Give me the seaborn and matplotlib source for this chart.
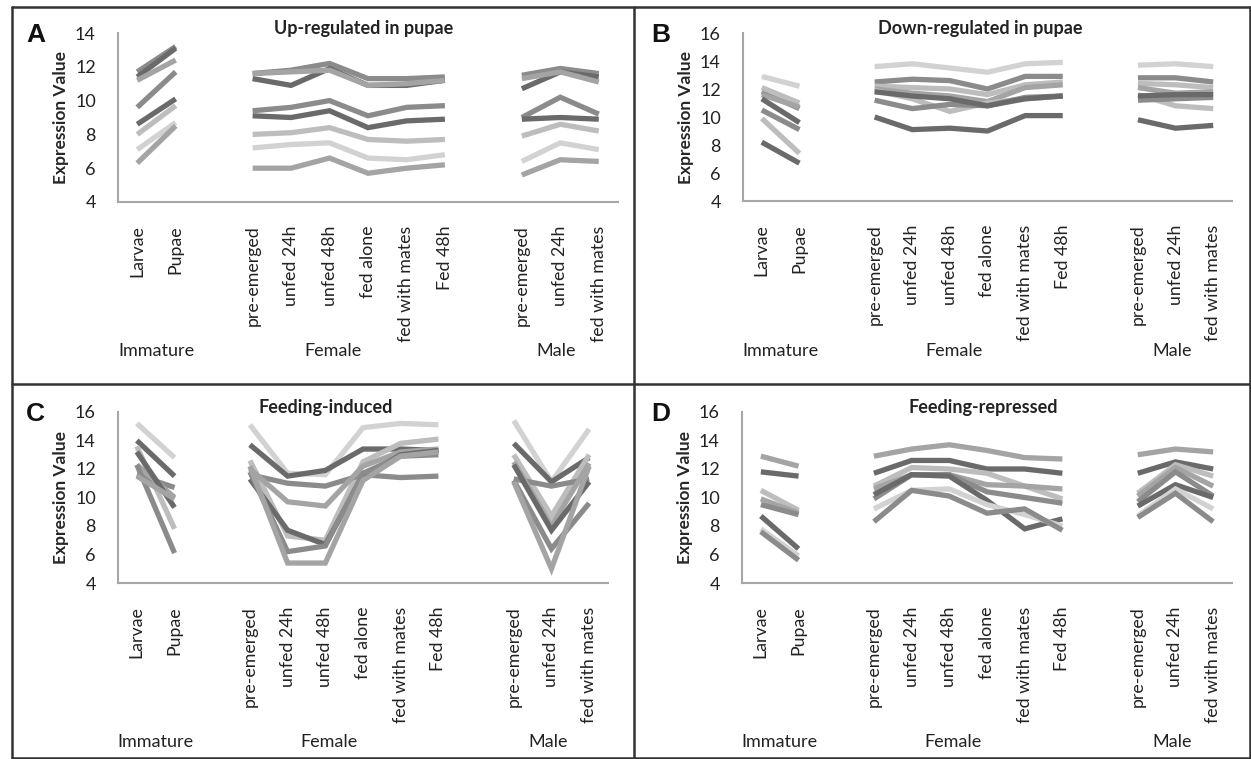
import matplotlib
matplotlib.use("Agg")
import matplotlib.pyplot as plt
import matplotlib.transforms as mtransforms
from matplotlib.lines import Line2D
import numpy as np
import pandas as pd
import seaborn as sns

sns.set_style("white")
plt.rcParams["font.family"] = ["Lato", "DejaVu Sans"]

# x categories (13 slots, two empty gaps)
categories = ["Larvae", "Pupae", "", "pre-emerged", "unfed 24h", "unfed 48h",
              "fed alone", "fed with mates", "Fed 48h", "", "pre-emerged",
              "unfed 24h", "fed with mates"]
group_names = ["Immature", "Female", "Male"]
group_pos = {"Immature": [0, 1], "Female": [3, 4, 5, 6, 7, 8], "Male": [10, 11, 12]}

DARK, MED, MEDL, LIGHT, LIGHTER = "#6a6a6a", "#8b8b8b", "#a4a4a4", "#bdbdbd", "#d2d2d2"

# Panel A: Up-regulated in pupae
a_colors = [MED, DARK, MEDL, MED, DARK, LIGHT, LIGHTER, MEDL]
a_immature = [[11.7, 13.2], [11.4, 13.1], [11.2, 12.4], [9.6, 11.7],
              [8.6, 10.1], [8.0, 9.7], [7.1, 8.7], [6.3, 8.5]]
a_female = [[11.6, 11.8, 12.2, 11.3, 11.3, 11.4],
            [11.3, 10.9, 11.9, 10.9, 10.9, 11.2],
            [11.6, 11.7, 11.8, 10.9, 11.0, 11.2],
            [9.4, 9.6, 10.0, 9.1, 9.6, 9.7],
            [9.1, 9.0, 9.4, 8.4, 8.8, 8.9],
            [8.0, 8.1, 8.4, 7.7, 7.6, 7.7],
            [7.2, 7.4, 7.5, 6.6, 6.5, 6.8],
            [6.0, 6.0, 6.6, 5.7, 6.0, 6.2]]
a_male = [[11.5, 11.9, 11.6], [10.7, 11.7, 11.4], [11.3, 11.7, 11.1],
          [9.0, 10.2, 9.2], [8.9, 9.0, 8.9], [7.9, 8.6, 8.2],
          [6.4, 7.5, 7.1], [5.6, 6.5, 6.4]]

# Panel B: Down-regulated in pupae
b_colors = [LIGHTER, MED, LIGHT, MEDL, LIGHT, MED, DARK, DARK]
b_immature = [[12.9, 12.2], [11.8, 10.6], [12.1, 11.0], [11.6, 10.7],
              [9.9, 7.4], [10.5, 9.1], [11.3, 9.6], [8.2, 6.7]]
b_female = [[13.6, 13.8, 13.5, 13.2, 13.8, 13.9],
            [12.5, 12.7, 12.6, 12.0, 12.9, 12.9],
            [12.2, 12.1, 12.0, 11.6, 12.3, 12.5],
            [12.0, 11.7, 11.5, 11.1, 12.1, 12.3],
            [11.9, 11.3, 10.4, 11.0, 11.3, 11.5],
            [11.2, 10.6, 10.9, 10.8, 11.4, 11.5],
            [11.8, 11.5, 11.3, 10.8, 11.3, 11.5],
            [10.0, 9.1, 9.2, 9.0, 10.1, 10.1]]
b_male = [[13.7, 13.8, 13.6], [12.8, 12.8, 12.5], [12.4, 12.3, 12.1],
          [12.1, 11.7, 11.8], [11.6, 10.8, 10.6], [11.2, 11.3, 11.4],
          [11.5, 11.6, 11.6], [9.8, 9.2, 9.4]]

# Panel C: Feeding-induced
c_colors = [LIGHTER, DARK, LIGHT, MED, MEDL, DARK, MED, MEDL]
c_immature = [[15.2, 12.8], [14.0, 11.5], [13.6, 7.8], [11.6, 10.7],
              [12.3, 10.0], [13.2, 9.3], [12.3, 6.1], [11.5, 9.9]]
c_female = [[15.1, 11.7, 11.6, 14.9, 15.2, 15.1],
            [13.7, 11.5, 11.9, 13.4, 13.4, 13.3],
            [12.6, 7.3, 7.0, 12.5, 13.8, 14.1],
            [11.6, 11.0, 10.8, 11.6, 11.4, 11.5],
            [12.0, 9.7, 9.4, 12.2, 13.2, 13.4],
            [11.3, 7.7, 6.7, 11.5, 13.0, 13.3],
            [11.8, 6.2, 6.6, 11.7, 12.9, 13.0],
            [12.2, 5.4, 5.4, 11.2, 12.9, 13.2]]
c_male = [[15.4, 11.1, 14.8], [13.8, 11.1, 12.8], [13.0, 8.7, 13.0],
          [11.3, 10.8, 11.3], [12.5, 8.0, 12.4], [12.3, 7.7, 11.1],
          [11.2, 6.4, 9.6], [11.1, 5.0, 12.2]]

# Panel D: Feeding-repressed
d_colors = [MEDL, DARK, LIGHT, MEDL, MED, DARK, LIGHTER, MED]
d_immature = [[12.9, 12.2], [11.8, 11.5], [10.5, 9.1], [9.9, 8.9],
              [9.5, 8.8], [8.7, 6.4], [7.8, 5.9], [7.6, 5.6]]
d_female = [[12.9, 13.4, 13.7, 13.3, 12.8, 12.7],
            [11.7, 12.6, 12.6, 12.0, 12.0, 11.7],
            [10.8, 12.1, 12.0, 11.7, 10.8, 9.9],
            [10.6, 11.6, 11.6, 10.9, 10.8, 10.6],
            [9.9, 11.6, 11.6, 10.4, 10.0, 9.6],
            [10.2, 11.6, 11.5, 9.8, 7.8, 8.5],
            [9.2, 10.5, 10.6, 9.5, 8.8, 8.0],
            [8.3, 10.5, 10.1, 8.9, 9.2, 7.7]]
d_male = [[13.0, 13.4, 13.2], [11.7, 12.5, 12.0], [10.3, 12.3, 11.5],
          [10.1, 12.1, 10.8], [9.7, 11.8, 10.1], [9.4, 10.9, 10.0],
          [8.7, 10.6, 9.2], [8.6, 10.3, 8.3]]

panels = [
    ("A", "Up-regulated in pupae", a_colors, a_immature, a_female, a_male, 14),
    ("B", "Down-regulated in pupae", b_colors, b_immature, b_female, b_male, 16),
    ("C", "Feeding-induced", c_colors, c_immature, c_female, c_male, 16),
    ("D", "Feeding-repressed", d_colors, d_immature, d_female, d_male, 16),
]

W, H = 1251, 759
fig = plt.figure(figsize=(W / 100, H / 100), dpi=100)

# axes boxes in pixels: left, right, top, bottom
boxes = [(118, 618, 33, 202), (743, 1232, 33, 201),
         (118, 608, 412, 583), (742, 1232, 412, 583)]
title_xy = [(364, 34), (980, 34), (326, 413), (983, 413)]
letter_xy = [(26, 42), (651, 42), (26, 421), (651, 421)]
group_y = [356, 356, 747, 747]
group_x = [0.5, 5.1, 10.9]

for k, (letter, title, colors, imm, fem, male, ymax) in enumerate(panels):
    l, r, t, b = boxes[k]
    ax = fig.add_axes([l / W, 1 - b / H, (r - l) / W, (b - t) / H])
    rows = []
    for i in range(len(colors)):
        for g, vals in zip(group_names, [imm[i], fem[i], male[i]]):
            for p, v in zip(group_pos[g], vals):
                rows.append({"line": i, "group": g, "pos": p, "value": v})
    df = pd.DataFrame(rows)
    pal = {i: c for i, c in enumerate(colors)}
    for g in group_names:
        sub = df[df["group"] == g]
        sns.lineplot(data=sub, x="pos", y="value", hue="line", palette=pal,
                     estimator=None, sort=False, legend=False, linewidth=3.8,
                     ax=ax)
    for ln in ax.lines:
        ln.set_solid_joinstyle("miter")
        ln.set_solid_capstyle("butt")

    ax.set_xlim(-0.5, 12.5)
    ax.set_ylim(4, ymax)
    ax.set_yticks(np.arange(4, ymax + 1, 2))
    ax.set_xticks(range(13))
    ax.set_xticklabels(categories, rotation=90, fontsize=12.8, color="#222222")
    ax.set_xticks(np.arange(-0.5, 13, 1), minor=True)
    ax.tick_params(axis="x", which="major", length=0, pad=17)
    ax.tick_params(axis="x", which="minor", length=5, width=1.2,
                   color="#a6a6a6", direction="out")
    ax.tick_params(axis="y", length=0, pad=16, labelsize=13,
                   labelcolor="#222222")
    for side in ["top", "right"]:
        ax.spines[side].set_visible(False)
    for side in ["left", "bottom"]:
        ax.spines[side].set_color("#a6a6a6")
        ax.spines[side].set_linewidth(1.5)
    ax.set_xlabel("")
    ax.set_ylabel("Expression Value", fontsize=12.5, fontweight="bold",
                  labelpad=4)

    tx, ty = title_xy[k]
    fig.text(tx / W, 1 - ty / H, title, ha="center", va="baseline",
             fontsize=13, fontweight="bold", color="#222222")
    lx, ly = letter_xy[k]
    fig.text(lx / W, 1 - ly / H, letter, ha="left", va="baseline",
             fontsize=19, fontweight="bold", family="Liberation Sans",
             color="#111111")
    trans = mtransforms.blended_transform_factory(ax.transData, fig.transFigure)
    for gx, gname in zip(group_x, group_names):
        ax.text(gx, 1 - group_y[k] / H, gname, transform=trans, ha="center",
                va="baseline", fontsize=13, color="#222222")

# panel frames
frame_kw = dict(color="#333333", linewidth=1.8, transform=fig.transFigure)
for xs, ys in [((12, 1250), (7, 7)), ((12, 1250), (384, 384)),
               ((12, 1250), (758, 758)), ((12, 12), (7, 758)),
               ((634, 634), (7, 758)), ((1250, 1250), (7, 758))]:
    fig.add_artist(Line2D([x / W for x in xs], [1 - y / H for y in ys],
                          **frame_kw))

fig.savefig("out.png", dpi=100)
